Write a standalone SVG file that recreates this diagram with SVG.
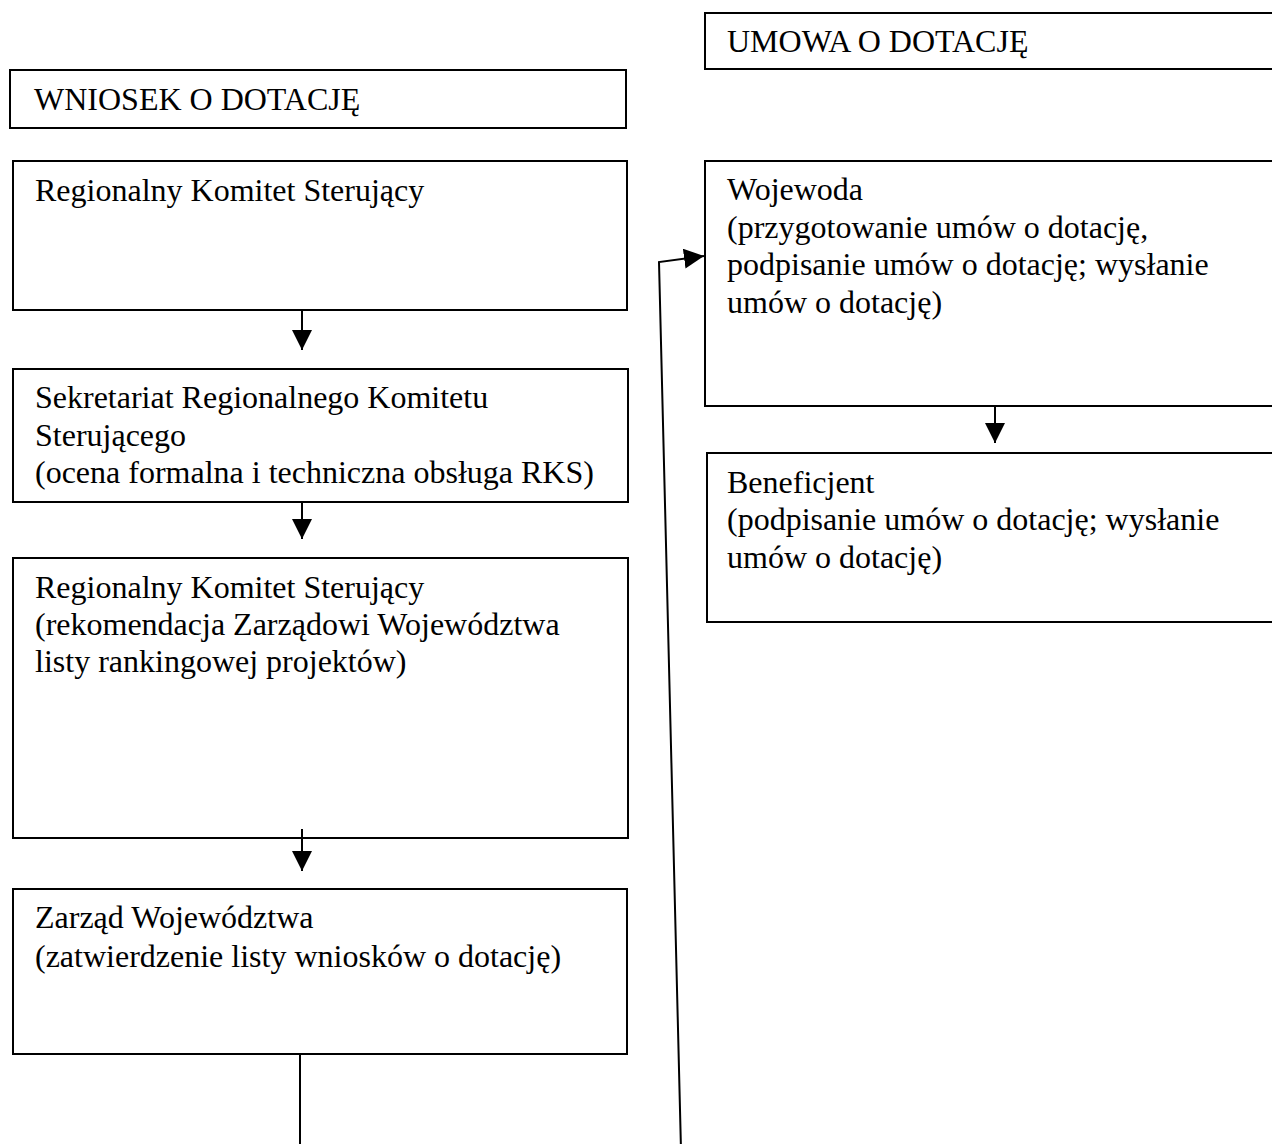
<svg xmlns="http://www.w3.org/2000/svg" width="1272" height="1144" viewBox="0 0 1272 1144">
<style>
.box{fill:#ffffff;stroke:#000000;stroke-width:2}
.t{font-family:"Liberation Serif","Times New Roman",serif;font-size:32px;fill:#000000}
.c{fill:none;stroke:#000000;stroke-width:2}
</style>
<defs>
<marker id="ah" markerUnits="userSpaceOnUse" markerWidth="20" markerHeight="20" refX="20" refY="10" orient="auto">
<path d="M0,0 L20,10 L0,20 Z" fill="#000000"/>
</marker>
</defs>
<rect width="1272" height="1144" fill="#ffffff"/>
<g id="umowa">
<rect class="box" x="705" y="13" width="580" height="56"/>
<text class="t" x="727" y="52">UMOWA O DOTACJĘ</text>
</g>
<g id="wniosek">
<rect class="box" x="10" y="70" width="616" height="58"/>
<text class="t" x="34" y="110">WNIOSEK O DOTACJĘ</text>
</g>
<g id="rks1">
<rect class="box" x="13" y="161" width="614" height="149"/>
<text class="t" x="35" y="201">Regionalny Komitet Sterujący</text>
</g>
<g id="sekretariat">
<rect class="box" x="13" y="369" width="615" height="133"/>
<text class="t" x="35" y="408">Sekretariat Regionalnego Komitetu</text>
<text class="t" x="35" y="446">Sterującego</text>
<text class="t" x="35" y="483">(ocena formalna i techniczna obsługa RKS)</text>
</g>
<g id="rks2">
<rect class="box" x="13" y="558" width="615" height="280"/>
<text class="t" x="35" y="598">Regionalny Komitet Sterujący</text>
<text class="t" x="35" y="635">(rekomendacja Zarządowi Województwa</text>
<text class="t" x="35" y="672">listy rankingowej projektów)</text>
</g>
<g id="zarzad">
<rect class="box" x="13" y="889" width="614" height="165"/>
<text class="t" x="35" y="928">Zarząd Województwa</text>
<text class="t" x="35" y="967">(zatwierdzenie listy wniosków o dotację)</text>
</g>
<g id="wojewoda">
<rect class="box" x="705" y="161" width="580" height="245"/>
<text class="t" x="727" y="200">Wojewoda</text>
<text class="t" x="727" y="238">(przygotowanie umów o dotację,</text>
<text class="t" x="727" y="275">podpisanie umów o dotację; wysłanie</text>
<text class="t" x="727" y="313">umów o dotację)</text>
</g>
<g id="beneficjent">
<rect class="box" x="707" y="453" width="578" height="169"/>
<text class="t" x="727" y="493">Beneficjent</text>
<text class="t" x="727" y="530">(podpisanie umów o dotację; wysłanie</text>
<text class="t" x="727" y="568">umów o dotację)</text>
</g>
<g id="connectors">
<line class="c" x1="302" y1="310" x2="302" y2="350" marker-end="url(#ah)"/>
<line class="c" x1="302" y1="502" x2="302" y2="539" marker-end="url(#ah)"/>
<line class="c" x1="302" y1="829" x2="302" y2="871" marker-end="url(#ah)"/>
<line class="c" x1="995" y1="406" x2="995" y2="443" marker-end="url(#ah)"/>
<line class="c" x1="300" y1="1054" x2="300" y2="1150"/>
<polyline class="c" points="681,1150 659,262 704,256" marker-end="url(#ah)"/>
</g>
</svg>
